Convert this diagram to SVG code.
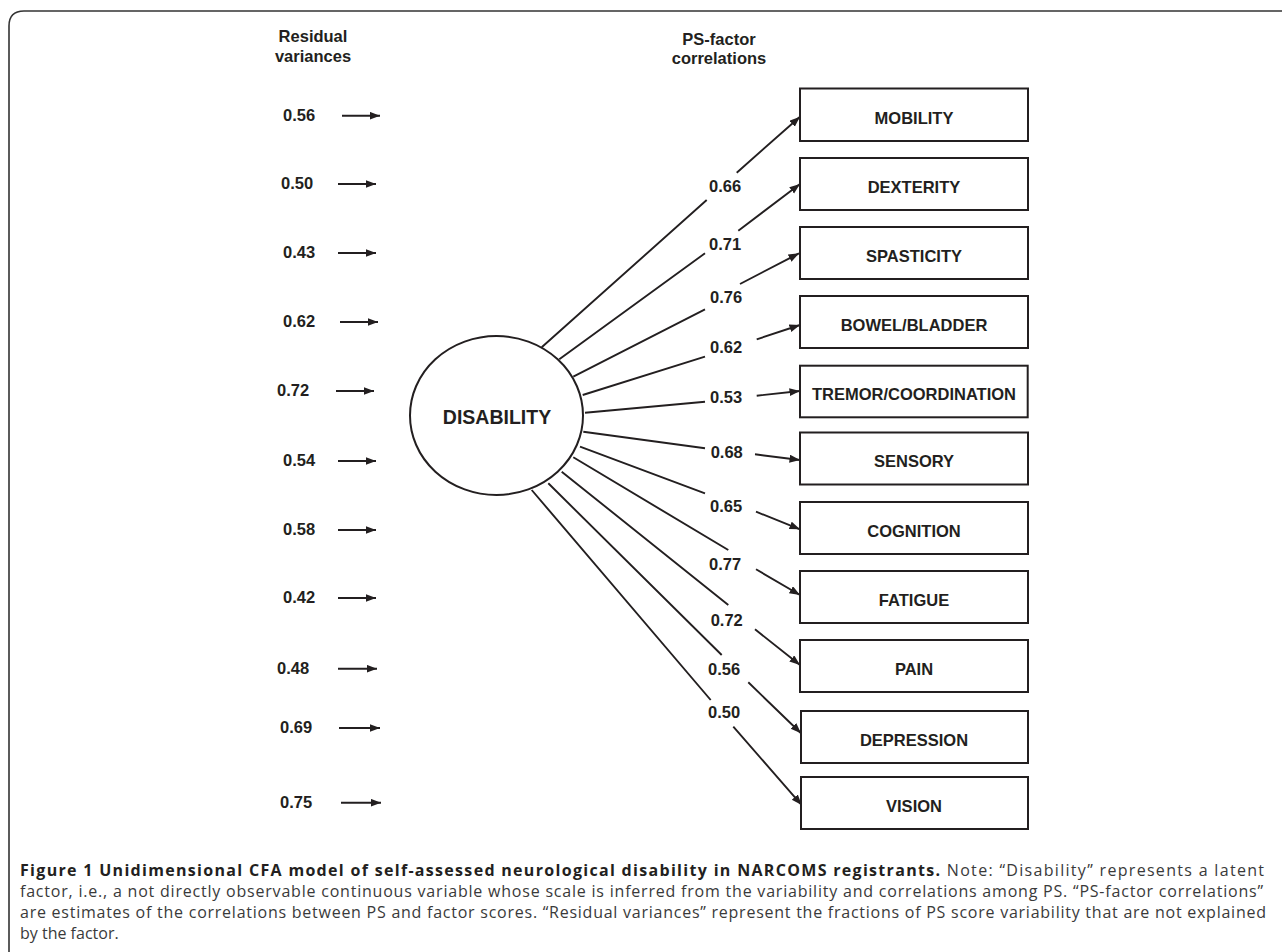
<svg xmlns="http://www.w3.org/2000/svg" width="1282" height="952" viewBox="0 0 1282 952">
<defs>
<marker id="ah" markerUnits="userSpaceOnUse" markerWidth="12" markerHeight="9" refX="10.5" refY="4" orient="auto">
<path d="M0,0 L10.5,4 L0,8 z" fill="#231f20"/>
</marker>
<style>
.t{font-family:"Liberation Sans",Arial,Helvetica,sans-serif;font-weight:bold;font-size:16.5px;fill:#231f20}
.c{text-anchor:middle}
.ar{stroke:#231f20;stroke-width:1.9;fill:none;marker-end:url(#ah)}
.box{fill:#fff;stroke:#231f20;stroke-width:2}
.cap{font-family:"Open Sans","Noto Sans",sans-serif;font-size:16px;fill:#3a3a3a}
.capb{font-weight:bold;fill:#231f20}
</style>
</defs>
<rect width="1282" height="952" fill="#fff"/>
<path d="M9,952 V26 Q9,11 24,11 H1282" fill="none" stroke="#333" stroke-width="1.6"/>

<g id="headers">
<text class="t c" x="313" y="42">Residual</text>
<text class="t c" x="313" y="62">variances</text>
<text class="t c" x="719" y="45">PS-factor</text>
<text class="t c" x="719" y="64">correlations</text>
</g>

<g id="residuals">
<text class="t" x="283" y="121">0.56</text><path class="ar" d="M342,115.7 H380"/>
<text class="t" x="281" y="189">0.50</text><path class="ar" d="M338,184 H376"/>
<text class="t" x="283" y="258">0.43</text><path class="ar" d="M338,253 H376"/>
<text class="t" x="283" y="327">0.62</text><path class="ar" d="M340,322 H378"/>
<text class="t" x="277" y="396">0.72</text><path class="ar" d="M336,391 H374"/>
<text class="t" x="283" y="466">0.54</text><path class="ar" d="M338,461 H376"/>
<text class="t" x="283" y="535">0.58</text><path class="ar" d="M338,530 H376"/>
<text class="t" x="283" y="603">0.42</text><path class="ar" d="M338,598 H376"/>
<text class="t" x="277" y="674">0.48</text><path class="ar" d="M338,668.7 H377"/>
<text class="t" x="280" y="733">0.69</text><path class="ar" d="M339,728 H380"/>
<text class="t" x="280" y="808">0.75</text><path class="ar" d="M341,802.7 H381"/>
</g>

<g id="disability">
<ellipse cx="496.5" cy="415.5" rx="86.5" ry="79.5" fill="#fff" stroke="#231f20" stroke-width="2"/>
<text class="t c" x="497" y="424" style="font-size:19.5px">DISABILITY</text>
</g>

<g id="connectors">
<path class="ar" d="M541.7,347.3 L706.7,200 M736.7,172.7 L800,116.7"/>
<path class="ar" d="M559.3,359.3 L705,253.3 M738.3,230.7 L800,184"/>
<path class="ar" d="M573.3,376.7 L705,309.3 M740,284 L799,253.3"/>
<path class="ar" d="M582.7,395 L705,356.7 M756.7,339.3 L800,325"/>
<path class="ar" d="M585,412.7 L705,401.7 M756.7,395.7 L800,391"/>
<path class="ar" d="M583.3,431.7 L705,448.3 M755,454.3 L800,460"/>
<path class="ar" d="M580,446.7 L705,493.3 M756,511.7 L800,529.3"/>
<path class="ar" d="M573.3,457.3 L728.3,550 M756,569.3 L800,595"/>
<path class="ar" d="M561.7,471.7 L728.3,605 M755,629.3 L800,665"/>
<path class="ar" d="M548.3,483.3 L721.7,655 M748.3,682.3 L801,733.3"/>
<path class="ar" d="M531.7,490 L710.7,700 M733.3,726.7 L801.7,805"/>
</g>

<g id="loadings">
<text class="t" x="709" y="192">0.66</text>
<text class="t" x="709" y="250">0.71</text>
<text class="t" x="710" y="303">0.76</text>
<text class="t" x="710" y="353">0.62</text>
<text class="t" x="710" y="403">0.53</text>
<text class="t" x="710.7" y="458">0.68</text>
<text class="t" x="710" y="512">0.65</text>
<text class="t" x="709" y="570">0.77</text>
<text class="t" x="710.7" y="626">0.72</text>
<text class="t" x="708" y="675">0.56</text>
<text class="t" x="708" y="718">0.50</text>
</g>

<g id="mobility"><rect class="box" x="800" y="88.5" width="228" height="52.5"/><text class="t c" x="914" y="123.5">MOBILITY</text></g>
<g id="dexterity"><rect class="box" x="800" y="158" width="228" height="52"/><text class="t c" x="914" y="192.7">DEXTERITY</text></g>
<g id="spasticity"><rect class="box" x="800" y="227" width="228" height="52"/><text class="t c" x="914" y="261.7">SPASTICITY</text></g>
<g id="bowel"><rect class="box" x="800" y="296" width="228" height="52"/><text class="t c" x="914" y="331">BOWEL/BLADDER</text></g>
<g id="tremor"><rect class="box" x="800" y="365.7" width="227.7" height="51.6"/><text class="t c" x="914" y="400">TREMOR/COORDINATION</text></g>
<g id="sensory"><rect class="box" x="800" y="432.5" width="228" height="52"/><text class="t c" x="914" y="467">SENSORY</text></g>
<g id="cognition"><rect class="box" x="800" y="502" width="228" height="52"/><text class="t c" x="914" y="536.7">COGNITION</text></g>
<g id="fatigue"><rect class="box" x="800" y="571" width="228" height="52"/><text class="t c" x="914" y="605.7">FATIGUE</text></g>
<g id="pain"><rect class="box" x="800" y="640" width="228" height="52"/><text class="t c" x="914" y="674.5">PAIN</text></g>
<g id="depression"><rect class="box" x="801" y="711" width="227" height="52"/><text class="t c" x="914" y="746">DEPRESSION</text></g>
<g id="vision"><rect class="box" x="801" y="777" width="227" height="52"/><text class="t c" x="914" y="812.3">VISION</text></g>

<g id="caption">
<text class="cap" x="20" y="876" textLength="1244" lengthAdjust="spacing"><tspan class="capb">Figure 1 Unidimensional CFA model of self-assessed neurological disability in NARCOMS registrants.</tspan> Note: “Disability” represents a latent</text>
<text class="cap" x="20" y="897" textLength="1243" lengthAdjust="spacing">factor, i.e., a not directly observable continuous variable whose scale is inferred from the variability and correlations among PS. “PS-factor correlations”</text>
<text class="cap" x="20" y="918" textLength="1246" lengthAdjust="spacing">are estimates of the correlations between PS and factor scores. “Residual variances” represent the fractions of PS score variability that are not explained</text>
<text class="cap" x="20" y="939">by the factor.</text>
</g>
</svg>
